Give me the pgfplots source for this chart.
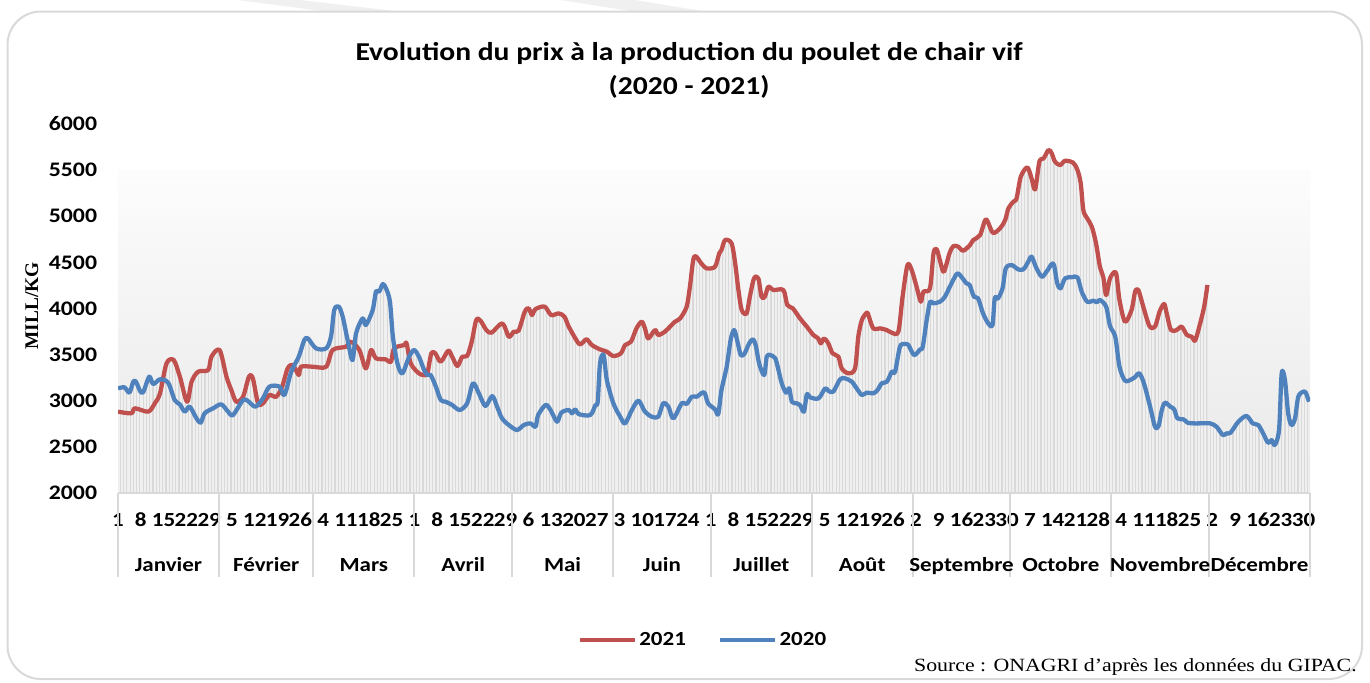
\documentclass[border=0pt]{standalone}
\usepackage{pgfplots}
\pgfplotsset{compat=1.18}
\usepackage{pgfplotstable}
\usetikzlibrary{patterns.meta}
\usepackage{fontspec}
\setmainfont{Carlito}[FakeStretch=1.15]
\newfontfamily\srcfont{Liberation Serif}[FakeStretch=1.17]
\newfontfamily\labfont{Liberation Serif}
\definecolor{cred}{HTML}{C0504D}
\definecolor{cblue}{HTML}{4F81BD}

\pgfplotstableread{
x y
1 3134
3 3145
4.5 3088
5.7 3207
6.5 3207
7.9 3098
8.8 3098
10.6 3261
11.8 3181
13.9 3232
16.4 3196
18.4 3008
20 2961
21.5 2882
23 2936
25.1 2809
26.4 2762
27.6 2864
30.2 2918
32.7 2961
34.8 2882
36.3 2845
39.4 3008
40.9 2997
43.2 2936
45.5 3026
47.5 3153
50.6 3153
52.1 3062
54.2 3315
56.5 3478
58.2 3658
59.3 3676
61.8 3568
64.9 3568
66.4 3694
67.4 3984
68.8 4020
70 3911
71.5 3658
73 3441
74.1 3731
76.1 3893
77.1 3821
79.2 3984
80.2 4182
81.2 4182
82.3 4265
83.3 4218
84.5 4074
85.4 3694
86.8 3405
88.3 3297
90.4 3478
91.9 3550
93.4 3478
95 3333
96 3279
97 3279
98.6 3153
100.1 3008
101.6 2990
103.6 2954
105.9 2900
108.2 2972
110 3189
111.8 3080
113.8 2943
115.9 3051
117.4 2936
118.9 2809
121 2737
123.5 2683
125.6 2737
127.6 2755
129.2 2719
130 2845
132.3 2954
133.8 2900
135.8 2773
137.1 2871
139.4 2900
140.4 2864
141.4 2907
142.4 2856
146 2845
147.6 2954
148.3 2990
149 3405
150.1 3496
151.1 3225
153.1 2972
155.2 2827
156.7 2755
158.8 2900
160.8 3001
162.8 2882
164.9 2827
166.9 2827
168.4 2972
170 2936
171.5 2809
174.1 2972
175.6 2965
177.2 3044
178.7 3044
180.4 3088
181.2 3080
182.2 2972
184.3 2907
185.3 2856
186.3 3116
187.9 3369
189.1 3658
190.2 3767
191.2 3640
192.2 3496
193.3 3507
194.8 3622
196 3666
196.9 3586
197.9 3398
199.4 3279
200.2 3478
201.2 3496
202.8 3460
203.8 3333
204.8 3189
206.1 3088
207.1 3134
207.9 2990
209.4 2972
210.4 2954
211.6 2882
212.5 3069
213.5 3037
216.1 3026
218.1 3134
219.1 3109
220.6 3098
222.7 3232
224.2 3243
226.3 3207
227.8 3134
229.4 3062
230.9 3088
232.9 3080
234.2 3116
235.5 3189
237.1 3207
238.6 3315
239.6 3315
241.1 3586
242.6 3615
243.7 3604
245.4 3496
247.3 3557
248.1 3586
249.3 3875
250.3 4067
251.4 4056
253.4 4074
254.9 4128
256.4 4236
258.5 4374
259.5 4363
261.5 4273
262.5 4255
263.8 4128
265.1 4110
266.6 3947
268.2 3839
269.5 3821
270.2 4110
271.2 4110
272.6 4220
273.6 4435
275.4 4471
277.4 4424
279 4424
280.2 4489
281.5 4562
282.8 4453
284.6 4345
286.1 4399
287.6 4478
288.4 4471
289.4 4273
290.4 4218
291.8 4327
293.8 4338
295.6 4338
296.9 4182
298.6 4074
300.5 4085
301.5 4067
302.5 4092
304.4 4020
305.6 3810
307.2 3694
308.5 3369
310.2 3218
312.2 3232
313.2 3254
314.6 3297
316 3189
317.9 2936
319.4 2719
320.5 2726
321.5 2900
322.5 2979
324.1 2936
325.3 2907
326.3 2809
328.2 2798
329.4 2762
331 2755
333.3 2755
336.3 2755
338.3 2719
340.2 2629
341.4 2647
342.6 2654
345 2773
347.5 2835
349.4 2755
351.1 2737
352.6 2647
354.1 2546
355.2 2574
356.2 2520
357.5 2690
358.3 3297
359.3 3225
360.3 2864
361.3 2737
362.4 2809
363.4 3044
364.9 3098
365.7 3088
366.7 2990
}\tblue

\pgfplotstableread{
x y
1 2882
5.1 2864
6.2 2918
10.3 2882
12.3 2972
13.9 3080
15.9 3405
18.1 3441
20 3261
22.2 2990
23.6 3207
25.6 3315
28.7 3333
29.7 3478
32.2 3550
34.3 3261
35.8 3116
37.3 2990
39.4 3044
41.2 3261
42.4 3243
44 2972
45.5 2972
47.5 3062
49.6 3044
51.4 3153
53.1 3351
54.7 3387
56.5 3279
57.2 3369
60.8 3369
64.9 3369
66.9 3550
71 3586
72.5 3640
75.1 3550
77.1 3351
78.7 3550
80.2 3460
83.2 3449
84.8 3423
85.8 3568
88.9 3604
89.6 3622
90.9 3405
93.4 3297
95 3279
96 3297
97.2 3514
98.4 3514
100.1 3423
102.4 3543
103.6 3478
105.2 3377
106.7 3478
108.2 3485
109.6 3640
111 3875
112.3 3868
114.1 3767
115.7 3738
119 3839
121 3694
122.5 3749
124 3760
125.9 3965
127.1 4002
128.1 3929
129.2 3994
132 4020
134 3929
136.3 3947
138.1 3911
139.4 3803
142.4 3622
143.4 3622
144.9 3666
146.5 3604
149 3557
151.1 3532
153.1 3485
155.4 3514
156.7 3604
158.5 3640
160.2 3785
161.8 3857
162.8 3785
163.8 3676
165.9 3767
166.9 3713
168.9 3749
170.5 3803
172 3857
173.6 3893
175.6 4020
176.6 4236
177.9 4562
180.1 4489
181.7 4435
184.3 4453
185.6 4598
186.3 4634
187.4 4742
189.4 4706
190.5 4489
191.5 4200
192.5 3984
194 3947
195 4128
196.3 4327
197.6 4327
198.6 4128
199.6 4128
200.7 4236
202.2 4200
205.3 4200
206.5 4038
208.2 4002
210.4 3893
212.5 3803
214.5 3713
216 3676
216.8 3622
217.8 3676
219.1 3622
220.4 3514
222.2 3478
223.2 3351
225.3 3297
227.3 3351
228.3 3694
229.4 3875
230.9 3955
231.4 3929
232.9 3785
235 3785
237 3767
238.6 3738
240.6 3749
241.9 4128
243.4 4471
244.7 4417
246.2 4236
247.5 4074
248.3 4182
250.3 4218
251.4 4598
252.4 4641
253.6 4489
254.6 4399
256.3 4598
257.5 4677
259 4670
260.5 4627
262.6 4688
263.6 4742
265.7 4796
267.5 4966
269.6 4822
271.8 4869
273.4 4959
274.4 5086
275.9 5158
276.9 5194
278.2 5429
280.2 5530
281.5 5411
282.6 5291
283.9 5591
285.2 5627
286.7 5718
287.7 5682
288.7 5591
290.3 5555
291.8 5602
294.3 5580
295.6 5501
296.6 5357
297.4 5067
298.6 4977
300 4887
301.3 4706
302.5 4453
303.5 4345
304.4 4146
305.6 4327
307.4 4388
308.5 4092
310.2 3857
312.2 3984
313.3 4182
314.3 4200
315.8 4020
317.7 3810
319.4 3803
320.8 3965
322.2 4049
323 3947
324.3 3767
326.1 3767
327.6 3803
329.2 3713
330.7 3694
331.7 3651
333 3803
334.5 4020
335.5 4255
}\tred

\begin{document}
\begin{tikzpicture}
\begin{scope}[x=0.75pt,y=-0.75pt]
\useasboundingbox (0,0) rectangle (1370,682);
% faint watermark
\fill[black!6] (237,0) -- (300,0) -- (420,14) -- (345,14) -- cycle;
\fill[black!6] (560,0) -- (635,0) -- (720,14) -- (650,14) -- cycle;
% frame
\filldraw[fill=white, draw=black!15, line width=1.5pt, rounded corners=25] (7.5,11.5) rectangle (1362,679);
% title
\node[anchor=base, font=\fontsize{19.3}{23}\selectfont\bfseries] at (689,60) {Evolution du prix à la production du poulet de chair vif};
\node[anchor=base, font=\fontsize{19.3}{23}\selectfont\bfseries] at (689,94) {(2020 - 2021)};
% y label
\node[rotate=90, anchor=center, font=\labfont\fontsize{14.5}{17}\selectfont\bfseries] at (31.7,305.8) {MILL/KG};
% source
\node[anchor=base east, inner sep=0pt, font=\srcfont\fontsize{14}{17}\selectfont] at (1357,671) {Source : ONAGRI d’après les données du GIPAC.};
\end{scope}

\begin{axis}[
  at={(88.5pt,-369.75pt)}, anchor=south west,
  scale only axis, width=894pt, height=276.75pt,
  xmin=1, xmax=367, ymin=2000, ymax=6000,
  clip mode=individual,
  axis line style={draw=none},
  major tick length=0pt,
  xtick={1,8,...,365},
  xticklabels={1,8,15,22,29,5,12,19,26,4,11,18,25,1,8,15,22,29,6,13,20,27,3,10,17,24,1,8,15,22,29,5,12,19,26,2,9,16,23,30,7,14,21,28,4,11,18,25,2,9,16,23,30},
  ytick={2000,2500,...,6000},
  /pgf/number format/assume math mode=true,
  /pgf/number format/set thousands separator={},
  tick label style={font=\fontsize{15}{18}\selectfont\bfseries},
  xticklabel style={anchor=base, inner sep=0pt, yshift=-25pt},
  yticklabel style={anchor=east, inner sep=0pt, xshift=-15.5pt, font=\fontsize{15.5}{18}\selectfont\bfseries},
  legend style={at={(0.491,-0.398)}, anchor=center, draw=none, fill=none,
    font=\fontsize{15}{18}\selectfont\bfseries,
    /tikz/every even column/.append style={column sep=22pt}},
  legend columns=2,
  legend image code/.code={\draw[#1, line width=3.2pt] (0pt,0pt) -- (41pt,0pt);},
]
% background gradient
\fill[top color=black!1, bottom color=black!9] (axis cs:1,2000) rectangle (axis cs:367,5500);
% gray hatched area under the series
\addplot[forget plot, smooth, draw=none, fill=black!6,
  postaction={pattern={Lines[angle=90,distance=2.44pt,line width=0.9pt]}, pattern color=black!15}]
  table[x=x,y=y] {\tblue} \closedcycle;
\addplot[forget plot, smooth, draw=none, fill=black!6,
  postaction={pattern={Lines[angle=90,distance=2.44pt,line width=0.9pt]}, pattern color=black!15}]
  table[x=x,y=y] {\tred} \closedcycle;
% axis line and month separators
\draw[black!15, line width=1.5pt] (axis cs:1,2000) -- (axis cs:367,2000);
\pgfplotsinvokeforeach{1,32,61,92,122,153,183,214,245,275,306,336,367}{
  \draw[black!15, line width=1.5pt] (axis cs:#1,2000) -- ([yshift=-63pt]axis cs:#1,2000);
}
% month names
\pgfplotsforeachungrouped \m/\name in {16.5/Janvier,46.5/Février,76.5/Mars,107/Avril,137.5/Mai,168/Juin,198.5/Juillet,229.5/Août,260/Septembre,290.5/Octobre,321/Novembre,351.5/Décembre}{
  \edef\tmp{\noexpand\node[anchor=base, inner sep=0pt, font=\noexpand\fontsize{15}{18}\noexpand\selectfont\noexpand\bfseries] at ([yshift=-58.9pt]axis cs:\m,2000) {\name};}
  \tmp
}
% series
\addplot[cred, line width=3.2pt, smooth, line join=round] table[x=x,y=y] {\tred};
\addlegendentry{2021}
\addplot[cblue, line width=3.2pt, smooth, line join=round] table[x=x,y=y] {\tblue};
\addlegendentry{2020}
\end{axis}
\end{tikzpicture}
\end{document}
